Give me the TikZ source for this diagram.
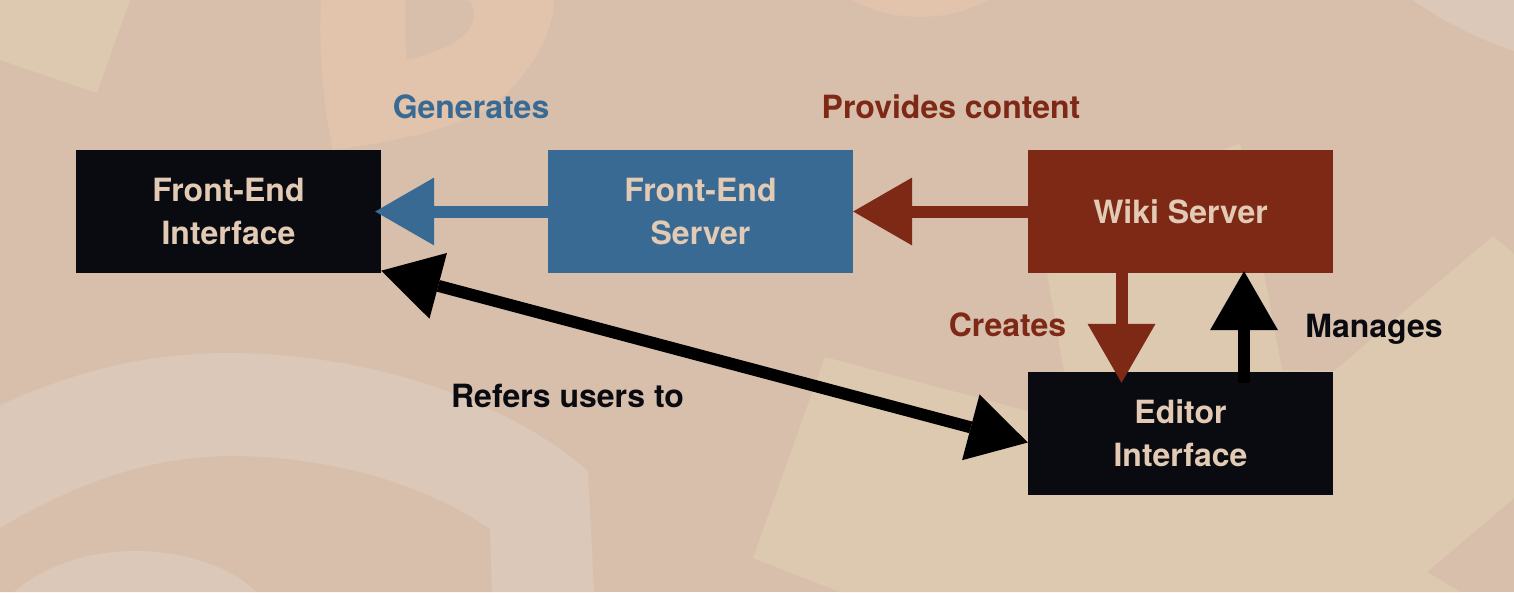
\documentclass[tikz,border=0pt]{standalone}
\usepackage{fontspec}
\setmainfont{TeX Gyre Heros}
\usetikzlibrary{arrows.meta}
\definecolor{bgBeige}{HTML}{D8BFAC}
\definecolor{sandLight}{HTML}{DDC9AF}
\definecolor{pinkLight}{HTML}{E2C3AC}
\definecolor{ringLight}{HTML}{DCC8B8}
\definecolor{boxBlack}{HTML}{0A0B10}
\definecolor{serverBlue}{HTML}{386A93}
\definecolor{wikiRed}{HTML}{7E2816}
\definecolor{boxText}{HTML}{E2CAB4}

\begin{document}
\begin{tikzpicture}[x=1pt, y=-1pt,
    box/.style={rectangle, minimum width=305pt, minimum height=123pt, inner sep=0pt, align=center, text=boxText, font=\fontsize{32}{43}\selectfont\bfseries},
    lbl/.style={anchor=base, inner sep=0pt, font=\fontsize{32}{38}\selectfont\bfseries},
    flow/.style={line width=12pt, -{Triangle[length=59pt, width=68pt, line width=0pt]}},
    twoWay/.style={line width=12pt, {Triangle[length=59pt, width=68pt, line width=0pt]}-{Triangle[length=59pt, width=68pt, line width=0pt]}}]
    \useasboundingbox (0,0) rectangle (1514,592);
    % background
    \begin{scope}
        \clip (0,0) rectangle (1514,592);
        \fill[bgBeige] (0,0) rectangle (1514,592);
        \fill[sandLight] (0,0) -- (130,0) -- (97,93) -- (0,60) -- cycle;
        \fill[pinkLight, even odd rule] (321,0) .. controls (318,50) and (324,110) .. (333,150) .. controls (400,140) and (470,128) .. (505,95) .. controls (540,60) and (554,25) .. (554,0) -- cycle
            (405,0) -- (406,60) .. controls (440,52) and (470,40) .. (474,17) .. controls (475,8) and (470,0) .. (467,0) -- cycle;
        \fill[pinkLight] (920,-127.5) circle (144.5pt);
        \fill[ringLight] (1413,0) .. controls (1440,20) and (1480,40) .. (1514,51) -- (1514,0) -- cycle;
        \fill[ringLight, even odd rule] (594,592) -- (588,471) .. controls (500,395) and (360,353) .. (228,353) .. controls (140,353) and (60,375) .. (-20,415) -- (-20,592) -- cycle
            (492,592) -- (490,529) .. controls (420,480) and (320,456) .. (232,456) .. controls (140,456) and (60,490) .. (-20,540) -- (-20,592) -- cycle
            (256,592) .. controls (230,565) and (180,551) .. (135,551) .. controls (80,551) and (40,570) .. (14,592) -- cycle;
        \fill[sandLight] (825,357) -- (1050,417) -- (1064,371) -- (1051,296) -- (1040,230) -- (1240,143) -- (1282,370) -- (1334,371) -- (1493,236) -- (1514,254)
            -- (1514,498) -- (1427,572) -- (1460,592) -- (840,592) -- (753,558) -- cycle;
    \end{scope}
    % boxes
    \node[box, fill=boxBlack] (fei) at (228.5,211.5) {Front-End\\Interface};
    \node[box, fill=serverBlue] (fes) at (700.5,211.5) {Front-End\\Server};
    \node[box, fill=wikiRed] (wiki) at (1180.5,211.5) {Wiki Server};
    \node[box, fill=boxBlack] (editor) at (1180.5,433.5) {Editor\\Interface};
    % connectors
    \draw[flow, serverBlue] (fes.west) -- ([xshift=-6pt]fei.east);
    \draw[flow, wikiRed] (wiki.west) -- (fes.east);
    \draw[flow, wikiRed] ([xshift=-59pt]wiki.south) -- ([xshift=-59pt, yshift=-11pt]editor.north);
    \draw[flow, black] ([xshift=63.5pt, yshift=-11pt]editor.north) -- ([xshift=63.5pt, yshift=2pt]wiki.south);
    \draw[twoWay, black] ([yshift=2.5pt]fei.south east) -- ([yshift=-9pt]editor.west);
    % labels
    \node[lbl, text=serverBlue] (genLbl) at (471,118) {Generates};
    \node[lbl, text=wikiRed] (provLbl) at (951,118) {Provides content};
    \node[lbl, text=wikiRed] (creLbl) at (1007.5,336) {Creates};
    \node[lbl, text=boxBlack] (manLbl) at (1374,337) {Manages};
    \node[lbl, text=boxBlack] (refLbl) at (567.5,407) {Refers users to};
\end{tikzpicture}
\end{document}
